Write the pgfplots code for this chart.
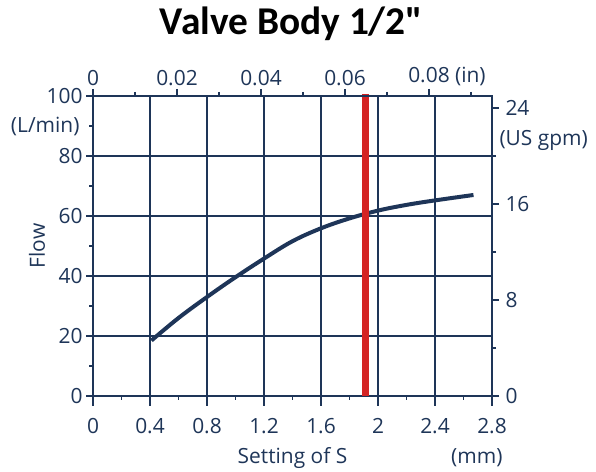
\documentclass[border=0pt]{standalone}
\usepackage{fontspec}
\setmainfont{Open Sans}
\newfontfamily\titlefont{Carlito}
\usepackage{pgfplots}
\pgfplotsset{compat=1.18}
\definecolor{navy}{HTML}{1E3558}
\definecolor{vred}{HTML}{D42424}
\begin{document}
\begin{tikzpicture}[x=1bp,y=1bp]
\path[use as bounding box] (0,0) rectangle (596,472);
\node[anchor=base, font=\titlefont\bfseries\fontsize{39.5}{40}\selectfont] at (291.5,437) {Valve Body 1/2"};
\begin{axis}[
  at={(93bp,76bp)}, anchor=south west, scale only axis,
  width=399bp, height=300bp,
  xmin=0, xmax=2.8, ymin=0, ymax=100,
  xtick={0,0.4,0.8,1.2,1.6,2,2.4,2.8},
  xticklabels={0,0.4,0.8,1.2,1.6,2,2.4,2.8},
  ytick={0,20,40,60,80,100},
  yticklabels={0,20,40,60,80,100},
  minor xtick={0.2,0.6,1.0,1.4,1.8,2.2,2.6},
  minor ytick={10,30,50,70,90},
  xtick pos=bottom, ytick pos=left,
  tick align=outside,
  major tick length=7bp, minor tick length=4bp,
  xtick style={/pgfplots/major tick length=10bp},
  every tick/.style={navy, line width=1.6bp},
  grid=major,
  grid style={navy, line width=1.7bp},
  axis line style={navy, line width=2.2bp},
  /pgf/number format/assume math mode=true,
  ticklabel style={navy, font=\fontsize{21}{21}\selectfont},
  xticklabel style={yshift=-12bp},
  label style={navy, font=\fontsize{21}{21}\selectfont},
  xlabel={Setting of S},
  xlabel style={at={(rel axis cs:0.5,-0.207)}, anchor=center},
  ylabel={Flow},
  ylabel style={at={(rel axis cs:-0.14,0.5)}, anchor=center},
  clip=false,
]
\addplot[navy, line width=4bp, smooth, tension=0.6] coordinates {
(0.41,18.5) (0.6,26) (0.8,33) (1.0,39.6) (1.2,45.8) (1.4,51.6) (1.6,55.9)
(1.8,59.2) (2.0,61.8) (2.2,63.7) (2.4,65.2) (2.67,67)};
\addplot[vred, line width=7bp] coordinates {(1.915,0) (1.915,100.5)};
\node[navy, anchor=east, font=\fontsize{21}{21}\selectfont] at (rel axis cs:-0.025,0.9) {(L/min)};
\node[navy, anchor=center, font=\fontsize{21}{21}\selectfont] at (rel axis cs:0.962,-0.207) {(mm)};
\end{axis}
\begin{axis}[
  at={(93bp,76bp)}, anchor=south west, scale only axis,
  width=399bp, height=300bp,
  xmin=0, xmax=0.095, ymin=0, ymax=25,
  axis x line*=top, axis y line*=right,
  scaled x ticks=false, scaled y ticks=false,
  xtick={0,0.02,0.04,0.06,0.08},
  xticklabels={0,0.02,0.04,0.06,{0.08\rlap{ (in)}}},
  minor xtick={0.01,0.03,0.05,0.07,0.09},
  ytick={0,8,16,24},
  yticklabels={0,8,16,24},
  minor ytick={4,12,20},
  tick align=outside,
  major tick length=7bp, minor tick length=4bp,
  every tick/.style={navy, line width=1.6bp},
  axis line style={navy, line width=2.2bp, -},
  /pgf/number format/assume math mode=true,
  ticklabel style={navy, font=\fontsize{21}{21}\selectfont},
  yticklabel style={xshift=3bp},
  clip=false,
]
\node[navy, anchor=west, font=\fontsize{21}{21}\selectfont] at (rel axis cs:1.01,0.853) {(US gpm)};
\end{axis}
\end{tikzpicture}
\end{document}
